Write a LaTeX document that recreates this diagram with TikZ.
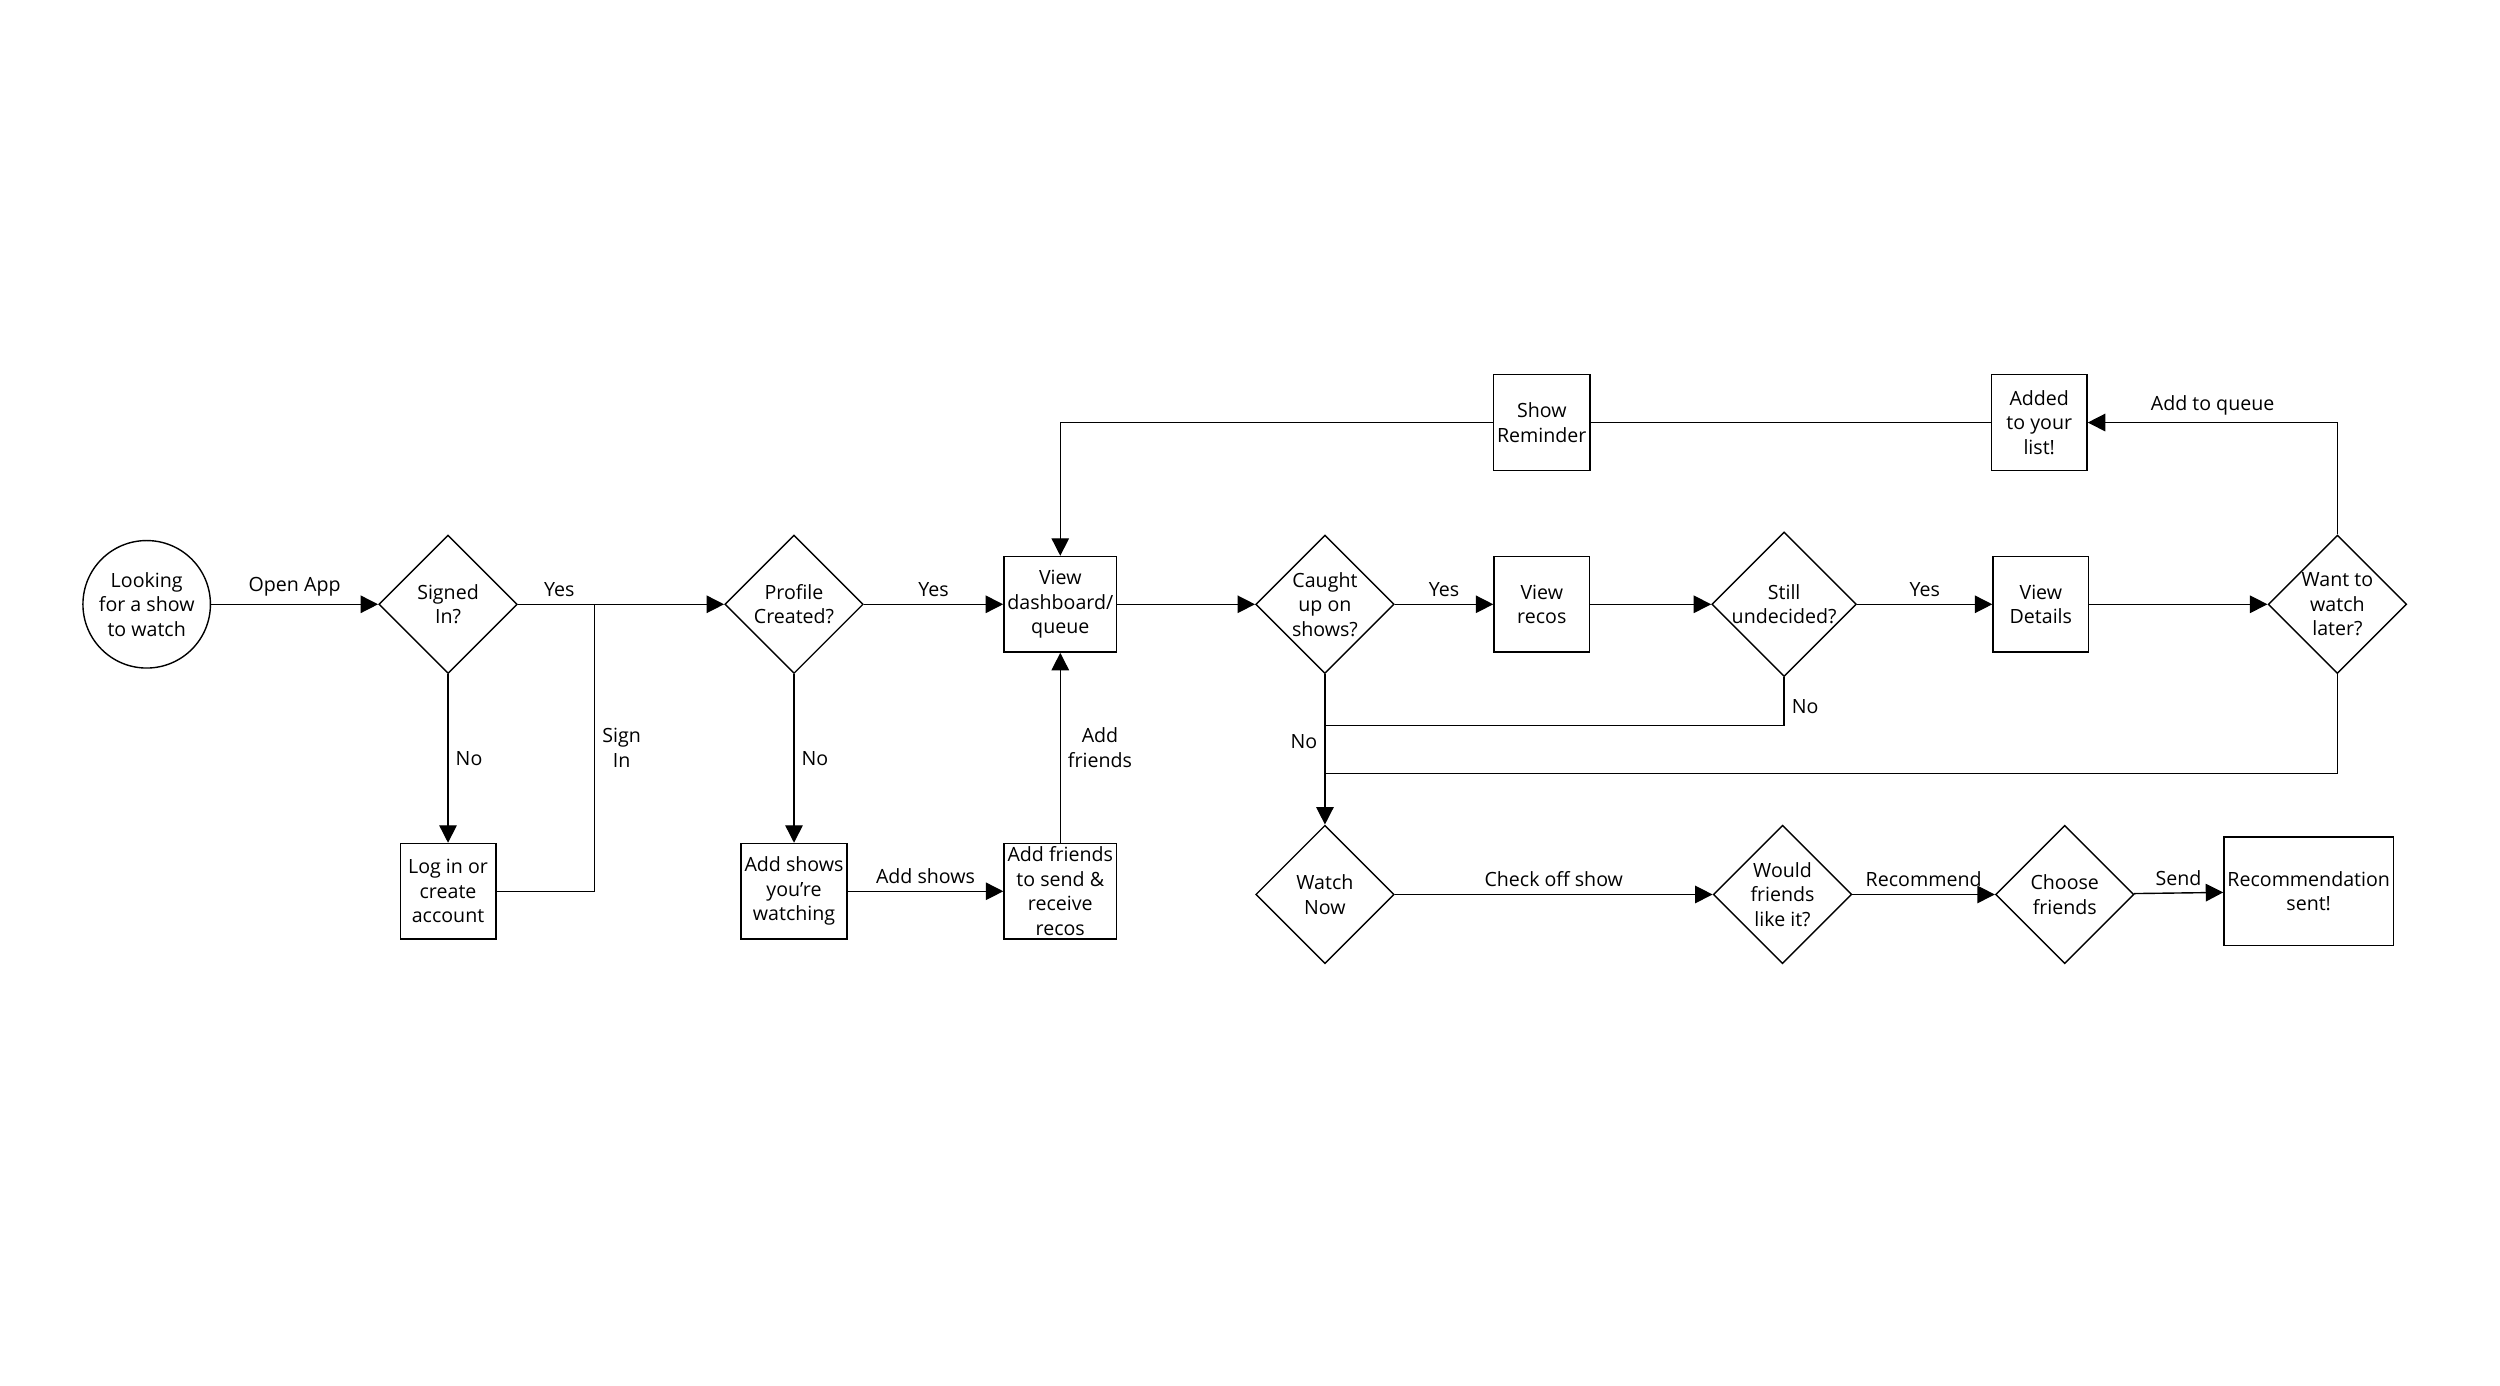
\documentclass[tikz,border=0pt]{standalone}
\usepackage{fontspec}
\setmainfont{Open Sans}
\usetikzlibrary{shapes.geometric,arrows.meta,positioning}
\tikzset{
    -{Triangle[length=5pt,width=5pt]},semithick,
    every node/.style={font=\fontsize{5.6}{7}\selectfont, align=center},
    box/.style ={rectangle, draw, minimum width=0.96cm, minimum height=0.96cm, inner sep=1pt},
    choice/.style ={diamond, draw, minimum size=1.39cm, inner sep=0pt, aspect=1},
    start/.style = {circle, draw, minimum size=1.28cm, inner sep=0pt},
    lbl/.style = {inner sep=2pt}
}
\begin{document}
\begin{tikzpicture}[x=0.016cm,y=-0.016cm]
  \useasboundingbox (0,0) rectangle (1568,869);
  \node (S) at (92,379) [start] {Looking\\for a show\\to watch};
  \node (SI) at (281,379) [choice] {Signed\\In?};
  \node (L) at (281,559) [box] {Log in or\\create\\account};
  \node (P) at (498,379) [choice] {Profile\\Created?};
  \node (AS) at (498,559) [box] {Add shows\\you're\\watching};
  \node (AF) at (665,559) [box] {Add friends\\to send \&\\receive\\recos};
  \node (D) at (665,379) [box] {View\\dashboard/\\queue};
  \node (C) at (831,379) [choice] {Caught\\up on\\shows?};
  \node (VR) at (967,379) [box] {View\\recos};
  \node (U) at (1119,379) [choice] {Still\\undecided?};
  \node (VD) at (1280,379) [box] {View\\Details};
  \node (W) at (1466,379) [choice] {Want to\\watch\\later?};
  \node (AQ) at (1279,265) [box] {Added\\to your\\list!};
  \node (R) at (967,265) [box] {Show\\Reminder};
  \node (WN) at (831,561) [choice] {Watch\\Now};
  \node (FL) at (1118,561) [choice] {Would\\friends\\like it?};
  \node (CF) at (1295,561) [choice] {Choose\\friends};
  \node (RS) at (1448,559) [box, minimum width=1.55cm, minimum height=1.09cm] {Recommendation\\sent!};
  \coordinate (J1) at (373,379);
  \coordinate (J2) at (831,455);
  \coordinate (J3) at (831,485);

  \draw (S) -- node[lbl, above] {Open App} (SI);
  \draw (SI) -- node[lbl, above, pos=0.2] {Yes} (P);
  \draw (SI) -- node[lbl, right] {No} (L);
  \draw[-] (L) -| node[lbl, right, pos=0.75] {Sign\\In} (J1);
  \draw (P) -- node[lbl, above] {Yes} (D);
  \draw (P) -- node[lbl, right] {No} (AS);
  \draw (AS) -- node[lbl, above] {Add shows} (AF);
  \draw (AF) -- node[lbl, right] {Add\\friends} (D);
  \draw (D) -- (C);
  \draw (C) -- node[lbl, above] {Yes} (VR);
  \draw (VR) -- (U);
  \draw (U) -- node[lbl, above] {Yes} (VD);
  \draw (VD) -- (W);
  \draw (W) |- node[lbl, above, pos=0.75] {Add to queue} (AQ);
  \draw[-] (AQ) -- (R);
  \draw (R) -| (D);
  \draw (C) -- node[lbl, left, pos=0.45] {No} (WN);
  \draw[-] (U) |- node[lbl, right, pos=0.3] {No} (J2);
  \draw[-] (W) |- (J3);
  \draw (WN) -- node[lbl, above] {Check off show} (FL);
  \draw (FL) -- node[lbl, above] {Recommend} (CF);
  \draw (CF) -- node[lbl, above] {Send} (RS);
\end{tikzpicture}
\end{document}
